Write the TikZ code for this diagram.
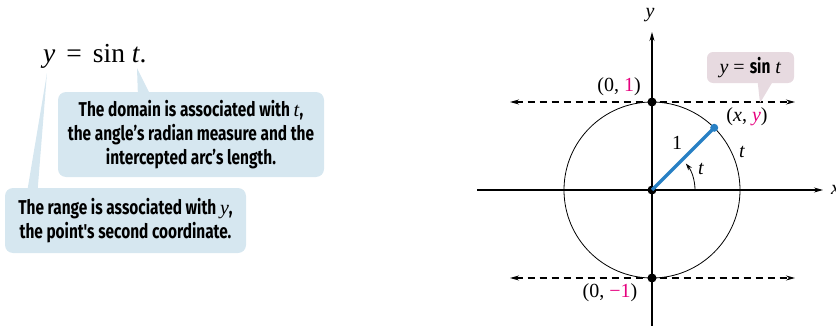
\documentclass[tikz,border=0pt]{standalone}
\usepackage{fontspec}
\setmainfont{Liberation Serif}
\newfontfamily\notefont[FakeStretch=0.77]{Fira Sans}
\usetikzlibrary{arrows.meta,calc}

\definecolor{noteblue}{RGB}{214,231,240}
\definecolor{notepink}{RGB}{231,218,224}
\definecolor{radblue}{RGB}{40,128,196}
\definecolor{hotpink}{RGB}{230,0,126}

\newcommand{\mv}[1]{\textit{#1}}

\tikzset{
  note/.style={fill=noteblue, rounded corners=8pt, inner sep=0pt, align=center,
    font=\notefont\bfseries\fontsize{20}{24}\selectfont},
  axis/.style={line width=1.1pt, -{Stealth[length=9pt,width=5pt]}},
  guide/.style={line width=1.1pt, dash pattern=on 7pt off 5pt,
    {Stealth[length=9pt,width=5pt]}-{Stealth[length=9pt,width=5pt]}},
  dot/.style={circle, fill=black, inner sep=0pt, minimum size=9pt},
  lbl/.style={font=\fontsize{20}{24}\selectfont},
}

\begin{document}
\begin{tikzpicture}[x=1pt, y=1pt]
                \useasboundingbox (0,0) rectangle (836,325);

                % the equation
                \node[anchor=base west, inner sep=0pt, font=\fontsize{27.5}{30}\selectfont] (eq) at (43,263)
                    {\mv{y}\hspace{0.4em}=\hspace{0.4em}sin\hspace{0.25em}\mv{t}.};
                \coordinate (tipT) at (137,257);
                \coordinate (tipY) at (47,252);

                % callouts on the left
                \node[note, minimum width=266pt, minimum height=85pt] (domain) at (191,190.5)
                    {The domain is associated with {\normalfont\mv{t}},\\ the angle’s radian measure and the\\ intercepted arc’s length.};
                \fill[noteblue] ([xshift=80pt]domain.north west) -- (tipT) -- ([xshift=91pt]domain.north west) -- cycle;
                \node[note, minimum width=241pt, minimum height=65pt] (range) at (125.5,104.5)
                    {The range is associated with {\normalfont\mv{y}},\\ the point's second coordinate.};
                \fill[noteblue] ([xshift=23pt]range.north west) -- (tipY) -- ([xshift=33pt]range.north west) -- cycle;

                % unit circle
                \coordinate (O) at (652,135);
                \draw[line width=0.8pt] (O) circle (88);

                % guides y = 1 and y = -1
                \coordinate (gtl) at (510,223);
                \coordinate (gtr) at (795,223);
                \coordinate (gbl) at (510,47);
                \coordinate (gbr) at (795,47);
                \draw[guide] (gtl) -- (gtr);
                \draw[guide] (gbl) -- (gbr);

                % axes
                \coordinate (xl) at (477,135);
                \coordinate (xr) at (823,135);
                \coordinate (yb) at (652,-5);
                \coordinate (yt) at (652,293);
                \draw[axis] (xl) -- (xr);
                \draw[axis] (yb) -- (yt);
                \node[lbl, anchor=west, inner sep=0pt] (xlab) at (831,135) {\mv{x}};
                \node[lbl] (ylab) at (650,310) {\mv{y}};

                % radius and angle
                \node[dot] (orig) at (O) {};
                \node[dot] (top) at (652,223) {};
                \node[dot] (bot) at (652,47) {};
                \coordinate (P) at ($(O)+(45:88)$);
                \draw[radblue, line width=3.5pt] (orig.center) -- (P);
                \node[dot, fill=radblue, minimum size=8pt] (pt) at (P) {};
                \draw[line width=0.8pt, -{Stealth[length=7pt,width=4.5pt]}] ($(O)+(43,0)$) arc[start angle=0, end angle=38, radius=43];

                % labels
                \node[lbl] (plus) at (619,238) {(0, \textcolor{hotpink}{1})};
                \node[lbl] (minus) at (610,32) {(0, \textcolor{hotpink}{−1})};
                \node[lbl] (ptlab) at (747,208) {(\mv{x}, \textcolor{hotpink}{\mv{y}})};
                \node[lbl] (rlab) at (677,182) {1};
                \node[lbl] (arclab) at (742,173) {\mv{t}};
                \node[lbl] (anglab) at (701,156) {\mv{t}};

                % callout y = sin t
                \node[fill=notepink, rounded corners=6pt, minimum width=87pt, minimum height=31pt, inner sep=0pt,
                    font=\fontsize{20}{22}\selectfont] (sine) at (750.5,257.5) {\mv{y} = {\notefont\bfseries sin} \mv{t}};
                \coordinate (tipS) at (760,222);
                \fill[notepink] ([xshift=51pt]sine.south west) -- (tipS) -- ([xshift=65pt]sine.south west) -- cycle;
\end{tikzpicture}
\end{document}
